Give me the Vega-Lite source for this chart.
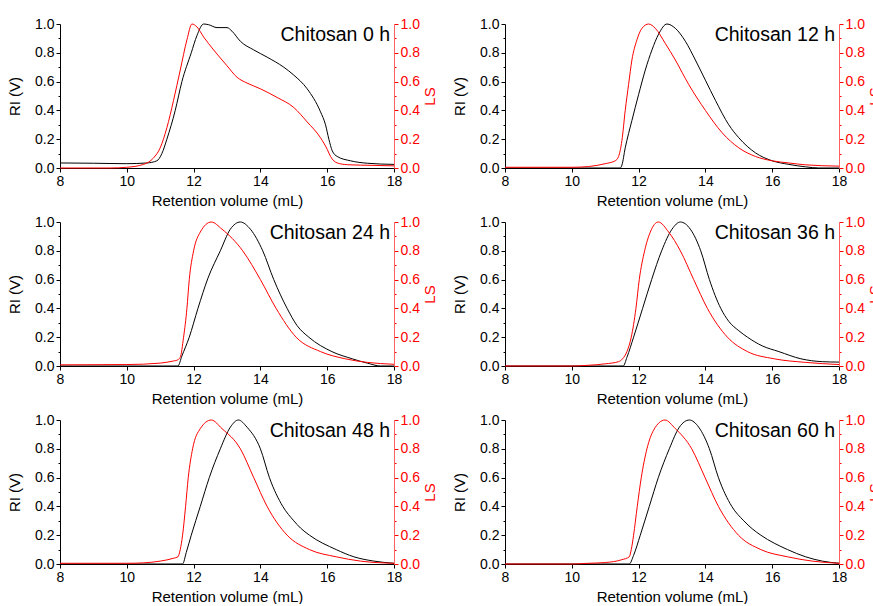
{
  "$schema": "https://vega.github.io/schema/vega-lite/v6.json",
  "background": "white",
  "padding": {"left": 7, "top": 17, "right": 0, "bottom": 0},
  "datasets": {
    "ri0": [{"x":8,"v":0.035},{"x":9,"v":0.033},{"x":10,"v":0.03},{"x":10.6,"v":0.035},{"x":10.9,"v":0.05},{"x":11.05,"v":0.1},{"x":11.2,"v":0.2},{"x":11.45,"v":0.4},{"x":11.65,"v":0.6},{"x":11.93,"v":0.8},{"x":12.1,"v":0.92},{"x":12.3,"v":1.0},{"x":12.45,"v":0.995},{"x":12.7,"v":0.975},{"x":13.0,"v":0.975},{"x":13.15,"v":0.95},{"x":13.4,"v":0.88},{"x":13.8,"v":0.82},{"x":14.2,"v":0.77},{"x":14.7,"v":0.7},{"x":15.0,"v":0.645},{"x":15.4,"v":0.55},{"x":15.8,"v":0.39},{"x":15.95,"v":0.3},{"x":16.05,"v":0.2},{"x":16.15,"v":0.12},{"x":16.3,"v":0.08},{"x":16.7,"v":0.05},{"x":17.2,"v":0.033},{"x":18,"v":0.025}],
    "ls0": [{"x":8,"v":0.0},{"x":9.5,"v":0.0},{"x":10,"v":0.005},{"x":10.5,"v":0.025},{"x":10.8,"v":0.07},{"x":11.0,"v":0.14},{"x":11.2,"v":0.28},{"x":11.4,"v":0.47},{"x":11.6,"v":0.68},{"x":11.8,"v":0.89},{"x":11.95,"v":1.0},{"x":12.1,"v":0.98},{"x":12.3,"v":0.91},{"x":12.6,"v":0.82},{"x":13.0,"v":0.71},{"x":13.3,"v":0.63},{"x":13.6,"v":0.59},{"x":14.0,"v":0.55},{"x":14.5,"v":0.49},{"x":15.0,"v":0.42},{"x":15.4,"v":0.32},{"x":15.8,"v":0.21},{"x":16.0,"v":0.13},{"x":16.1,"v":0.08},{"x":16.3,"v":0.035},{"x":16.6,"v":0.023},{"x":17,"v":0.02},{"x":18,"v":0.015}],
    "ri12": [{"x":8,"v":0},{"x":11.45,"v":0},{"x":11.5,"v":0.02},{"x":11.6,"v":0.14},{"x":11.8,"v":0.33},{"x":12.0,"v":0.51},{"x":12.2,"v":0.68},{"x":12.4,"v":0.82},{"x":12.6,"v":0.93},{"x":12.85,"v":1.0},{"x":13.1,"v":0.97},{"x":13.4,"v":0.88},{"x":13.7,"v":0.75},{"x":14.0,"v":0.61},{"x":14.3,"v":0.47},{"x":14.7,"v":0.3},{"x":15.0,"v":0.21},{"x":15.5,"v":0.105},{"x":16.0,"v":0.05},{"x":16.5,"v":0.025},{"x":17.0,"v":0.008},{"x":17.4,"v":0},{"x":18,"v":0}],
    "ls12": [{"x":8,"v":0.005},{"x":10,"v":0.005},{"x":10.5,"v":0.01},{"x":11.0,"v":0.03},{"x":11.3,"v":0.05},{"x":11.4,"v":0.08},{"x":11.5,"v":0.19},{"x":11.6,"v":0.4},{"x":11.7,"v":0.58},{"x":11.8,"v":0.75},{"x":11.95,"v":0.89},{"x":12.1,"v":0.97},{"x":12.3,"v":1.0},{"x":12.5,"v":0.97},{"x":12.8,"v":0.865},{"x":13.1,"v":0.75},{"x":13.5,"v":0.58},{"x":14.0,"v":0.4},{"x":14.5,"v":0.245},{"x":15.0,"v":0.14},{"x":15.5,"v":0.08},{"x":16.0,"v":0.05},{"x":16.5,"v":0.035},{"x":17.0,"v":0.022},{"x":18,"v":0.013}],
    "ri24": [{"x":8,"v":0},{"x":11.53,"v":0},{"x":11.65,"v":0.07},{"x":11.87,"v":0.2},{"x":12.13,"v":0.4},{"x":12.43,"v":0.61},{"x":12.8,"v":0.8},{"x":13.1,"v":0.95},{"x":13.4,"v":1.0},{"x":13.7,"v":0.95},{"x":14.07,"v":0.8},{"x":14.4,"v":0.6},{"x":14.8,"v":0.4},{"x":15.1,"v":0.28},{"x":15.45,"v":0.2},{"x":16.14,"v":0.1},{"x":16.75,"v":0.05},{"x":17.2,"v":0.02},{"x":17.6,"v":0},{"x":18,"v":0}],
    "ls24": [{"x":8,"v":0.008},{"x":10,"v":0.01},{"x":11,"v":0.02},{"x":11.4,"v":0.035},{"x":11.5,"v":0.04},{"x":11.6,"v":0.06},{"x":11.7,"v":0.2},{"x":11.8,"v":0.4},{"x":11.87,"v":0.6},{"x":12.0,"v":0.8},{"x":12.2,"v":0.93},{"x":12.53,"v":1.0},{"x":12.85,"v":0.95},{"x":13.47,"v":0.8},{"x":14.0,"v":0.6},{"x":14.47,"v":0.4},{"x":15.07,"v":0.2},{"x":15.8,"v":0.1},{"x":16.54,"v":0.05},{"x":17.2,"v":0.025},{"x":18,"v":0.012}],
    "ri36": [{"x":8,"v":0},{"x":11.54,"v":0},{"x":11.65,"v":0.06},{"x":11.85,"v":0.2},{"x":12.12,"v":0.4},{"x":12.39,"v":0.6},{"x":12.69,"v":0.8},{"x":13.0,"v":0.95},{"x":13.25,"v":1.0},{"x":13.55,"v":0.95},{"x":13.86,"v":0.8},{"x":14.12,"v":0.6},{"x":14.46,"v":0.4},{"x":14.7,"v":0.31},{"x":15.0,"v":0.245},{"x":15.26,"v":0.2},{"x":15.7,"v":0.14},{"x":16.2,"v":0.1},{"x":16.86,"v":0.05},{"x":17.5,"v":0.03},{"x":18,"v":0.027}],
    "ls36": [{"x":8,"v":0},{"x":10,"v":0},{"x":10.5,"v":0.005},{"x":11.0,"v":0.015},{"x":11.4,"v":0.03},{"x":11.52,"v":0.05},{"x":11.65,"v":0.1},{"x":11.78,"v":0.2},{"x":11.92,"v":0.4},{"x":12.02,"v":0.6},{"x":12.18,"v":0.8},{"x":12.35,"v":0.93},{"x":12.59,"v":1.0},{"x":12.9,"v":0.93},{"x":13.25,"v":0.8},{"x":13.65,"v":0.6},{"x":14.06,"v":0.4},{"x":14.66,"v":0.2},{"x":15.26,"v":0.1},{"x":16.06,"v":0.05},{"x":17,"v":0.025},{"x":18,"v":0.01}],
    "ri48": [{"x":8,"v":0},{"x":11.67,"v":0},{"x":11.78,"v":0.08},{"x":11.93,"v":0.2},{"x":12.2,"v":0.4},{"x":12.47,"v":0.6},{"x":12.8,"v":0.8},{"x":13.1,"v":0.95},{"x":13.34,"v":1.0},{"x":13.6,"v":0.95},{"x":14.0,"v":0.8},{"x":14.27,"v":0.6},{"x":14.67,"v":0.4},{"x":15.0,"v":0.3},{"x":15.2,"v":0.25},{"x":15.47,"v":0.2},{"x":16.27,"v":0.1},{"x":16.8,"v":0.05},{"x":17.4,"v":0.02},{"x":18,"v":0.005}],
    "ls48": [{"x":8,"v":0.005},{"x":10,"v":0.005},{"x":10.5,"v":0.008},{"x":11.0,"v":0.02},{"x":11.4,"v":0.04},{"x":11.53,"v":0.05},{"x":11.6,"v":0.1},{"x":11.67,"v":0.2},{"x":11.76,"v":0.4},{"x":11.84,"v":0.6},{"x":11.97,"v":0.8},{"x":12.2,"v":0.94},{"x":12.53,"v":1.0},{"x":12.85,"v":0.94},{"x":13.4,"v":0.8},{"x":13.8,"v":0.6},{"x":14.2,"v":0.4},{"x":14.8,"v":0.2},{"x":15.47,"v":0.1},{"x":16.27,"v":0.05},{"x":17.0,"v":0.02},{"x":18,"v":0.005}],
    "ri60": [{"x":8,"v":0},{"x":11.72,"v":0},{"x":11.85,"v":0.06},{"x":12.05,"v":0.2},{"x":12.32,"v":0.4},{"x":12.59,"v":0.6},{"x":12.92,"v":0.8},{"x":13.22,"v":0.95},{"x":13.52,"v":1.0},{"x":13.8,"v":0.95},{"x":14.12,"v":0.8},{"x":14.39,"v":0.6},{"x":14.79,"v":0.4},{"x":15.15,"v":0.3},{"x":15.4,"v":0.245},{"x":15.66,"v":0.2},{"x":16.46,"v":0.1},{"x":17.0,"v":0.05},{"x":17.5,"v":0.02},{"x":18,"v":0.005}],
    "ls60": [{"x":8,"v":0},{"x":10,"v":0},{"x":10.5,"v":0.005},{"x":11.0,"v":0.01},{"x":11.5,"v":0.03},{"x":11.72,"v":0.05},{"x":11.78,"v":0.1},{"x":11.85,"v":0.2},{"x":11.96,"v":0.4},{"x":12.08,"v":0.6},{"x":12.25,"v":0.8},{"x":12.45,"v":0.93},{"x":12.79,"v":1.0},{"x":13.1,"v":0.94},{"x":13.59,"v":0.8},{"x":13.99,"v":0.6},{"x":14.39,"v":0.4},{"x":14.99,"v":0.2},{"x":15.66,"v":0.1},{"x":16.46,"v":0.05},{"x":17.2,"v":0.02},{"x":18,"v":0.005}],
    "titles": [{"p":"0","label":"Chitosan 0 h"},{"p":"12","label":"Chitosan 12 h"},{"p":"24","label":"Chitosan 24 h"},{"p":"36","label":"Chitosan 36 h"},{"p":"48","label":"Chitosan 48 h"},{"p":"60","label":"Chitosan 60 h"}]
  },
  "columns": 2,
  "spacing": {"row": 7, "column": 14},
  "concat": [
    {"width": 334, "height": 144,
     "layer": [
      {"data":{"name":"ri0"},"mark":{"type":"line","color":"#000","strokeWidth":1,"interpolate":"monotone"},
       "encoding":{"x": {"field":"x","type":"quantitative","scale":{"domain":[8,18],"nice":false},"axis":{"title":"Retention volume (mL)","values":[8,9,10,11,12,13,14,15,16,17,18],"labelExpr":"datum.value % 2 === 0 ? datum.label : ''","tickSize":{"condition":{"test":"datum.value % 2 === 0","value":4},"value":2},"titlePadding":5}},
        "y":{"field":"v","type":"quantitative","scale":{"domain":[0,1],"nice":false},"axis":{"title":"RI (V)","orient":"left","values":[0,0.1,0.2,0.3,0.4,0.5,0.6,0.7,0.8,0.9,1],"format":".1f","labelExpr":"round(datum.value*10) % 2 === 0 ? datum.label : ''","tickSize":{"condition":{"test":"round(datum.value*10) % 2 === 0","value":4},"value":2},"titlePadding":12}}}},
      {"data":{"name":"ls0"},"mark":{"type":"line","color":"#ff0000","strokeWidth":1,"interpolate":"monotone"},
       "encoding":{"x": {"field":"x","type":"quantitative"},
        "y":{"field":"v","type":"quantitative","scale":{"domain":[0,1],"nice":false},"axis":{"title":"LS","orient":"right","titleAngle":270,"titleBaseline":"top","values":[0,0.1,0.2,0.3,0.4,0.5,0.6,0.7,0.8,0.9,1],"format":".1f","labelExpr":"round(datum.value*10) % 2 === 0 ? datum.label : ''","tickSize":{"condition":{"test":"round(datum.value*10) % 2 === 0","value":4},"value":2},"labelPadding":2,"domainColor":"#ff6060","tickColor":"#ff0000","labelColor":"#ff0000","titleColor":"#ff0000","titlePadding":3}}}},
      {"data":{"name":"titles"},"transform":[{"filter":"datum.p === '0'"}],"mark":{"type":"text","align":"right","baseline":"top","fontSize":19.5,"dx":-4,"dy":2},
       "encoding":{"x":{"datum":18},"y":{"datum":1,"scale":{"domain":[0,1]},"axis":null},"text":{"field":"label","type":"nominal"}}}
     ],
     "resolve": {"scale": {"y": "independent"}}},
    {"width": 334, "height": 144,
     "layer": [
      {"data":{"name":"ri12"},"mark":{"type":"line","color":"#000","strokeWidth":1,"interpolate":"monotone"},
       "encoding":{"x": {"field":"x","type":"quantitative","scale":{"domain":[8,18],"nice":false},"axis":{"title":"Retention volume (mL)","values":[8,9,10,11,12,13,14,15,16,17,18],"labelExpr":"datum.value % 2 === 0 ? datum.label : ''","tickSize":{"condition":{"test":"datum.value % 2 === 0","value":4},"value":2},"titlePadding":5}},
        "y":{"field":"v","type":"quantitative","scale":{"domain":[0,1],"nice":false},"axis":{"title":"RI (V)","orient":"left","values":[0,0.1,0.2,0.3,0.4,0.5,0.6,0.7,0.8,0.9,1],"format":".1f","labelExpr":"round(datum.value*10) % 2 === 0 ? datum.label : ''","tickSize":{"condition":{"test":"round(datum.value*10) % 2 === 0","value":4},"value":2},"titlePadding":12}}}},
      {"data":{"name":"ls12"},"mark":{"type":"line","color":"#ff0000","strokeWidth":1,"interpolate":"monotone"},
       "encoding":{"x": {"field":"x","type":"quantitative"},
        "y":{"field":"v","type":"quantitative","scale":{"domain":[0,1],"nice":false},"axis":{"title":"LS","orient":"right","titleAngle":270,"titleBaseline":"top","values":[0,0.1,0.2,0.3,0.4,0.5,0.6,0.7,0.8,0.9,1],"format":".1f","labelExpr":"round(datum.value*10) % 2 === 0 ? datum.label : ''","tickSize":{"condition":{"test":"round(datum.value*10) % 2 === 0","value":4},"value":2},"labelPadding":2,"domainColor":"#ff6060","tickColor":"#ff0000","labelColor":"#ff0000","titleColor":"#ff0000","titlePadding":3}}}},
      {"data":{"name":"titles"},"transform":[{"filter":"datum.p === '12'"}],"mark":{"type":"text","align":"right","baseline":"top","fontSize":19.5,"dx":-4,"dy":2},
       "encoding":{"x":{"datum":18},"y":{"datum":1,"scale":{"domain":[0,1]},"axis":null},"text":{"field":"label","type":"nominal"}}}
     ],
     "resolve": {"scale": {"y": "independent"}}},
    {"width": 334, "height": 144,
     "layer": [
      {"data":{"name":"ri24"},"mark":{"type":"line","color":"#000","strokeWidth":1,"interpolate":"monotone"},
       "encoding":{"x": {"field":"x","type":"quantitative","scale":{"domain":[8,18],"nice":false},"axis":{"title":"Retention volume (mL)","values":[8,9,10,11,12,13,14,15,16,17,18],"labelExpr":"datum.value % 2 === 0 ? datum.label : ''","tickSize":{"condition":{"test":"datum.value % 2 === 0","value":4},"value":2},"titlePadding":5}},
        "y":{"field":"v","type":"quantitative","scale":{"domain":[0,1],"nice":false},"axis":{"title":"RI (V)","orient":"left","values":[0,0.1,0.2,0.3,0.4,0.5,0.6,0.7,0.8,0.9,1],"format":".1f","labelExpr":"round(datum.value*10) % 2 === 0 ? datum.label : ''","tickSize":{"condition":{"test":"round(datum.value*10) % 2 === 0","value":4},"value":2},"titlePadding":12}}}},
      {"data":{"name":"ls24"},"mark":{"type":"line","color":"#ff0000","strokeWidth":1,"interpolate":"monotone"},
       "encoding":{"x": {"field":"x","type":"quantitative"},
        "y":{"field":"v","type":"quantitative","scale":{"domain":[0,1],"nice":false},"axis":{"title":"LS","orient":"right","titleAngle":270,"titleBaseline":"top","values":[0,0.1,0.2,0.3,0.4,0.5,0.6,0.7,0.8,0.9,1],"format":".1f","labelExpr":"round(datum.value*10) % 2 === 0 ? datum.label : ''","tickSize":{"condition":{"test":"round(datum.value*10) % 2 === 0","value":4},"value":2},"labelPadding":2,"domainColor":"#ff6060","tickColor":"#ff0000","labelColor":"#ff0000","titleColor":"#ff0000","titlePadding":3}}}},
      {"data":{"name":"titles"},"transform":[{"filter":"datum.p === '24'"}],"mark":{"type":"text","align":"right","baseline":"top","fontSize":19.5,"dx":-4,"dy":2},
       "encoding":{"x":{"datum":18},"y":{"datum":1,"scale":{"domain":[0,1]},"axis":null},"text":{"field":"label","type":"nominal"}}}
     ],
     "resolve": {"scale": {"y": "independent"}}},
    {"width": 334, "height": 144,
     "layer": [
      {"data":{"name":"ri36"},"mark":{"type":"line","color":"#000","strokeWidth":1,"interpolate":"monotone"},
       "encoding":{"x": {"field":"x","type":"quantitative","scale":{"domain":[8,18],"nice":false},"axis":{"title":"Retention volume (mL)","values":[8,9,10,11,12,13,14,15,16,17,18],"labelExpr":"datum.value % 2 === 0 ? datum.label : ''","tickSize":{"condition":{"test":"datum.value % 2 === 0","value":4},"value":2},"titlePadding":5}},
        "y":{"field":"v","type":"quantitative","scale":{"domain":[0,1],"nice":false},"axis":{"title":"RI (V)","orient":"left","values":[0,0.1,0.2,0.3,0.4,0.5,0.6,0.7,0.8,0.9,1],"format":".1f","labelExpr":"round(datum.value*10) % 2 === 0 ? datum.label : ''","tickSize":{"condition":{"test":"round(datum.value*10) % 2 === 0","value":4},"value":2},"titlePadding":12}}}},
      {"data":{"name":"ls36"},"mark":{"type":"line","color":"#ff0000","strokeWidth":1,"interpolate":"monotone"},
       "encoding":{"x": {"field":"x","type":"quantitative"},
        "y":{"field":"v","type":"quantitative","scale":{"domain":[0,1],"nice":false},"axis":{"title":"LS","orient":"right","titleAngle":270,"titleBaseline":"top","values":[0,0.1,0.2,0.3,0.4,0.5,0.6,0.7,0.8,0.9,1],"format":".1f","labelExpr":"round(datum.value*10) % 2 === 0 ? datum.label : ''","tickSize":{"condition":{"test":"round(datum.value*10) % 2 === 0","value":4},"value":2},"labelPadding":2,"domainColor":"#ff6060","tickColor":"#ff0000","labelColor":"#ff0000","titleColor":"#ff0000","titlePadding":3}}}},
      {"data":{"name":"titles"},"transform":[{"filter":"datum.p === '36'"}],"mark":{"type":"text","align":"right","baseline":"top","fontSize":19.5,"dx":-4,"dy":2},
       "encoding":{"x":{"datum":18},"y":{"datum":1,"scale":{"domain":[0,1]},"axis":null},"text":{"field":"label","type":"nominal"}}}
     ],
     "resolve": {"scale": {"y": "independent"}}},
    {"width": 334, "height": 144,
     "layer": [
      {"data":{"name":"ri48"},"mark":{"type":"line","color":"#000","strokeWidth":1,"interpolate":"monotone"},
       "encoding":{"x": {"field":"x","type":"quantitative","scale":{"domain":[8,18],"nice":false},"axis":{"title":"Retention volume (mL)","values":[8,9,10,11,12,13,14,15,16,17,18],"labelExpr":"datum.value % 2 === 0 ? datum.label : ''","tickSize":{"condition":{"test":"datum.value % 2 === 0","value":4},"value":2},"titlePadding":5}},
        "y":{"field":"v","type":"quantitative","scale":{"domain":[0,1],"nice":false},"axis":{"title":"RI (V)","orient":"left","values":[0,0.1,0.2,0.3,0.4,0.5,0.6,0.7,0.8,0.9,1],"format":".1f","labelExpr":"round(datum.value*10) % 2 === 0 ? datum.label : ''","tickSize":{"condition":{"test":"round(datum.value*10) % 2 === 0","value":4},"value":2},"titlePadding":12}}}},
      {"data":{"name":"ls48"},"mark":{"type":"line","color":"#ff0000","strokeWidth":1,"interpolate":"monotone"},
       "encoding":{"x": {"field":"x","type":"quantitative"},
        "y":{"field":"v","type":"quantitative","scale":{"domain":[0,1],"nice":false},"axis":{"title":"LS","orient":"right","titleAngle":270,"titleBaseline":"top","values":[0,0.1,0.2,0.3,0.4,0.5,0.6,0.7,0.8,0.9,1],"format":".1f","labelExpr":"round(datum.value*10) % 2 === 0 ? datum.label : ''","tickSize":{"condition":{"test":"round(datum.value*10) % 2 === 0","value":4},"value":2},"labelPadding":2,"domainColor":"#ff6060","tickColor":"#ff0000","labelColor":"#ff0000","titleColor":"#ff0000","titlePadding":3}}}},
      {"data":{"name":"titles"},"transform":[{"filter":"datum.p === '48'"}],"mark":{"type":"text","align":"right","baseline":"top","fontSize":19.5,"dx":-4,"dy":2},
       "encoding":{"x":{"datum":18},"y":{"datum":1,"scale":{"domain":[0,1]},"axis":null},"text":{"field":"label","type":"nominal"}}}
     ],
     "resolve": {"scale": {"y": "independent"}}},
    {"width": 334, "height": 144,
     "layer": [
      {"data":{"name":"ri60"},"mark":{"type":"line","color":"#000","strokeWidth":1,"interpolate":"monotone"},
       "encoding":{"x": {"field":"x","type":"quantitative","scale":{"domain":[8,18],"nice":false},"axis":{"title":"Retention volume (mL)","values":[8,9,10,11,12,13,14,15,16,17,18],"labelExpr":"datum.value % 2 === 0 ? datum.label : ''","tickSize":{"condition":{"test":"datum.value % 2 === 0","value":4},"value":2},"titlePadding":5}},
        "y":{"field":"v","type":"quantitative","scale":{"domain":[0,1],"nice":false},"axis":{"title":"RI (V)","orient":"left","values":[0,0.1,0.2,0.3,0.4,0.5,0.6,0.7,0.8,0.9,1],"format":".1f","labelExpr":"round(datum.value*10) % 2 === 0 ? datum.label : ''","tickSize":{"condition":{"test":"round(datum.value*10) % 2 === 0","value":4},"value":2},"titlePadding":12}}}},
      {"data":{"name":"ls60"},"mark":{"type":"line","color":"#ff0000","strokeWidth":1,"interpolate":"monotone"},
       "encoding":{"x": {"field":"x","type":"quantitative"},
        "y":{"field":"v","type":"quantitative","scale":{"domain":[0,1],"nice":false},"axis":{"title":"LS","orient":"right","titleAngle":270,"titleBaseline":"top","values":[0,0.1,0.2,0.3,0.4,0.5,0.6,0.7,0.8,0.9,1],"format":".1f","labelExpr":"round(datum.value*10) % 2 === 0 ? datum.label : ''","tickSize":{"condition":{"test":"round(datum.value*10) % 2 === 0","value":4},"value":2},"labelPadding":2,"domainColor":"#ff6060","tickColor":"#ff0000","labelColor":"#ff0000","titleColor":"#ff0000","titlePadding":3}}}},
      {"data":{"name":"titles"},"transform":[{"filter":"datum.p === '60'"}],"mark":{"type":"text","align":"right","baseline":"top","fontSize":19.5,"dx":-4,"dy":2},
       "encoding":{"x":{"datum":18},"y":{"datum":1,"scale":{"domain":[0,1]},"axis":null},"text":{"field":"label","type":"nominal"}}}
     ],
     "resolve": {"scale": {"y": "independent"}}}
  ],
  "config": {
    "view": {"stroke": null},
    "font": "Liberation Sans",
    "text": {"font": "Liberation Sans", "color": "#000"},
    "axis": {"grid": false, "labelFont": "Liberation Sans", "titleFont": "Liberation Sans", "labelFontSize": 14, "titleFontSize": 15, "titleFontWeight": "normal", "domainColor": "#000", "tickColor": "#000", "labelColor": "#000", "titleColor": "#000", "labelPadding": 2, "labelFlush": false, "labelOverlap": false}
  }
}
